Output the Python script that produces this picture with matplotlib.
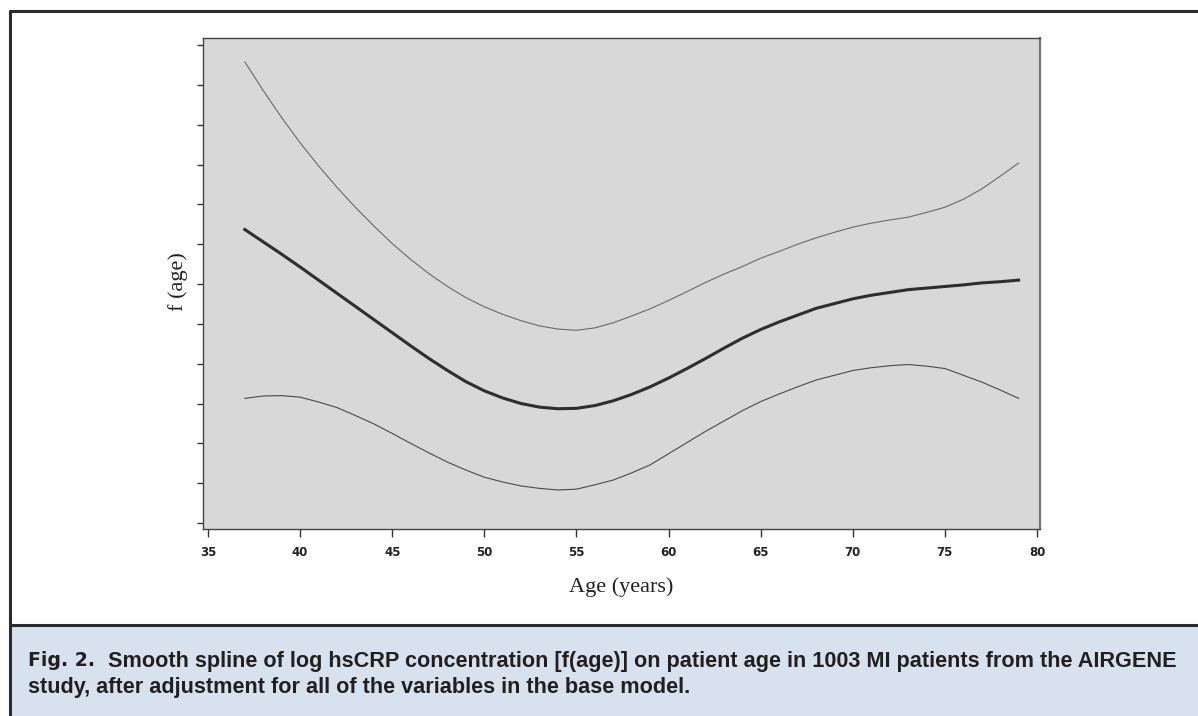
import matplotlib
matplotlib.use("Agg")
import matplotlib.pyplot as plt
from matplotlib.patches import Rectangle
from matplotlib.lines import Line2D

# values (f(age) units are arbitrary, axis is unlabelled)
age = [37, 38, 39, 40, 41, 42, 43, 44, 45, 46, 47, 48, 49, 50, 51, 52, 53, 54, 55, 56, 57,
       58, 59, 60, 61, 62, 63, 64, 65, 66, 67, 68, 69, 70, 71, 72, 73, 74, 75, 76, 77, 78, 79]
f_fit = [0.137, 0.106, 0.075, 0.043, 0.010, -0.023, -0.056, -0.089, -0.122, -0.155, -0.187,
         -0.217, -0.245, -0.268, -0.286, -0.300, -0.309, -0.313, -0.312, -0.305, -0.293,
         -0.277, -0.258, -0.236, -0.212, -0.187, -0.161, -0.136, -0.114, -0.095, -0.078,
         -0.061, -0.049, -0.037, -0.028, -0.021, -0.014, -0.010, -0.006, -0.002, 0.003,
         0.006, 0.010]
f_upper = [0.558, 0.486, 0.418, 0.355, 0.297, 0.243, 0.193, 0.146, 0.102, 0.062, 0.026,
           -0.006, -0.034, -0.057, -0.076, -0.092, -0.105, -0.113, -0.116, -0.110, -0.097,
           -0.080, -0.062, -0.041, -0.019, 0.004, 0.025, 0.044, 0.065, 0.082, 0.100,
           0.116, 0.130, 0.143, 0.153, 0.161, 0.168, 0.180, 0.193, 0.213, 0.239, 0.271, 0.304]
f_lower = [-0.287, -0.281, -0.280, -0.284, -0.296, -0.310, -0.330, -0.351, -0.375, -0.400,
           -0.424, -0.447, -0.467, -0.485, -0.497, -0.507, -0.513, -0.517, -0.515, -0.504,
           -0.492, -0.474, -0.454, -0.426, -0.398, -0.370, -0.344, -0.318, -0.295, -0.276,
           -0.258, -0.241, -0.229, -0.217, -0.210, -0.205, -0.202, -0.206, -0.212, -0.229,
           -0.246, -0.266, -0.287]
x_ticks = [35, 40, 45, 50, 55, 60, 65, 70, 75, 80]
y_ticks = [-0.6, -0.5, -0.4, -0.3, -0.2, -0.1, 0.0, 0.1, 0.2, 0.3, 0.4, 0.5, 0.6]

fig_label = "Fig. 2."
caption1 = "Smooth spline of log hsCRP concentration [f(age)] on patient age in 1003 MI patients from the AIRGENE"
caption2 = "study, after adjustment for all of the variables in the base model."

W, H = 1198, 716
fig = plt.figure(figsize=(W / 100, H / 100), dpi=100)
fig.patch.set_facecolor("white")

def fx(px):
    return px / W

def fy(py):
    return 1 - py / H

# caption band and outer frame
fig.add_artist(Rectangle((fx(11), 0), 1 - fx(11), fy(626), transform=fig.transFigure,
                         facecolor="#d8e1ee", edgecolor="none", zorder=0))
frame = dict(color="#2b2b2b", lw=2.2, transform=fig.transFigure, solid_capstyle="butt")
fig.add_artist(Line2D([fx(9), 1], [fy(11), fy(11)], **frame))
fig.add_artist(Line2D([fx(10), fx(10)], [fy(10), 0], **frame))
fig.add_artist(Line2D([fx(9), 1], [fy(625), fy(625)], **frame))

ax = fig.add_axes([fx(203), fy(529), fx(1040) - fx(203), fy(38) - fy(529)])
ax.set_facecolor("#d8d8d8")

ax.plot(age, f_upper, color="#6a6a6a", lw=0.8)
ax.plot(age, f_lower, color="#4a4a4a", lw=0.8)
ax.plot(age, f_fit, color="#2e2e2e", lw=2.2)

ax.set_xlim(34.73, 80.16)
ax.set_ylim(-0.615, 0.618)
ax.set_xticks(x_ticks)
ax.set_xticklabels([str(t) for t in x_ticks], fontsize=8.5, fontweight="bold",
                   family="DejaVu Sans", color="#222222")
ax.set_yticks(y_ticks)
ax.set_yticklabels([])
ax.tick_params(axis="x", direction="out", length=6, width=1, color="#333333", pad=6)
ax.tick_params(axis="y", direction="out", length=4.5, width=1, color="#333333")

for side in ["left", "top", "bottom"]:
    ax.spines[side].set_color("#444444")
    ax.spines[side].set_linewidth(1.0)
ax.spines["right"].set_color("#777777")
ax.spines["right"].set_linewidth(1.6)

fig.text(fx(621), fy(587), "Age (years)", ha="center", va="center",
         fontsize=16, family="Liberation Serif", color="#222222")
fig.text(fx(178), fy(282), "f (age)", ha="center", va="center", rotation=90,
         fontsize=16, family="Liberation Serif", color="#222222")

# caption, first line stretched to end at x=1180 like the reference
cap = dict(ha="left", va="center", fontweight="bold", color="#231f20")
t0 = fig.text(fx(28), fy(661), fig_label, fontsize=15, family="DejaVu Sans", **cap)
t1 = fig.text(fx(108), fy(661), caption1, fontsize=15, family="Liberation Sans", **cap)
t2 = fig.text(fx(28), fy(687), caption2, fontsize=15, family="Liberation Sans", **cap)
r = fig.canvas.get_renderer()
w = t1.get_window_extent(r).width
size = 15 * (1180 - 108) / w
t1.set_fontsize(size)
t2.set_fontsize(size)
w0 = t0.get_window_extent(r).width
t0.set_fontsize(15 * (95 - 28) / w0)

fig.savefig("out.png", dpi=100)
